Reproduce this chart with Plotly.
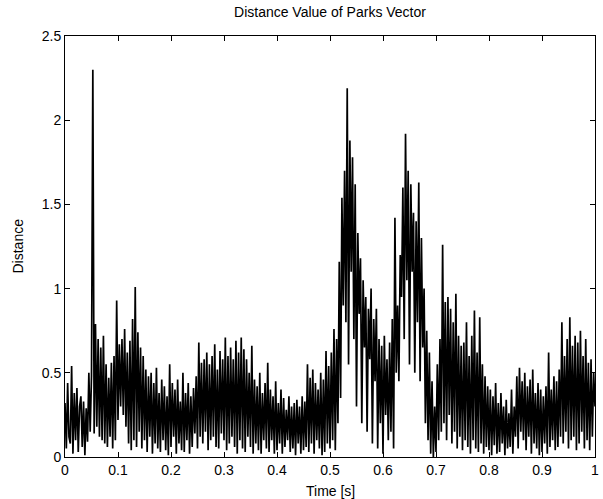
import plotly.graph_objects as go

# Distance samples, one list per 0.1 s (sample period 0.0025 s)
seg_00 = [0.32, 0.05, 0.44, 0.12, 0.08, 0.54, 0.02, 0.38, 0.10, 0.41, 0.03, 0.30,
          0.36, 0.06, 0.33, 0.01, 0.29, 0.09, 0.50, 0.15, 0.48, 2.30, 0.14, 0.79,
          0.18, 0.70, 0.12, 0.65, 0.10, 0.72, 0.08, 0.55, 0.06, 0.47, 0.12, 0.56,
          0.05, 0.60, 0.10, 0.93]
seg_01 = [0.22, 0.67, 0.30, 0.70, 0.25, 0.76, 0.18, 0.62, 0.08, 0.69, 0.04, 0.82,
          0.10, 1.01, 0.06, 0.74, 0.15, 0.65, 0.05, 0.60, 0.10, 0.52, 0.03, 0.48,
          0.12, 0.50, 0.02, 0.44, 0.08, 0.53, 0.05, 0.38, 0.03, 0.46, 0.10, 0.42,
          0.04, 0.36, 0.01, 0.55]
seg_02 = [0.06, 0.44, 0.12, 0.40, 0.02, 0.46, 0.08, 0.33, 0.04, 0.50, 0.03, 0.38,
          0.10, 0.44, 0.02, 0.36, 0.06, 0.41, 0.14, 0.48, 0.05, 0.68, 0.12, 0.56,
          0.08, 0.58, 0.15, 0.62, 0.04, 0.55, 0.10, 0.60, 0.12, 0.67, 0.06, 0.52,
          0.05, 0.63, 0.14, 0.58]
seg_03 = [0.10, 0.71, 0.04, 0.60, 0.08, 0.65, 0.12, 0.58, 0.06, 0.69, 0.02, 0.62,
          0.10, 0.71, 0.05, 0.64, 0.03, 0.58, 0.12, 0.50, 0.06, 0.66, 0.02, 0.46,
          0.08, 0.42, 0.04, 0.50, 0.02, 0.38, 0.10, 0.44, 0.05, 0.56, 0.03, 0.40,
          0.10, 0.36, 0.02, 0.45]
seg_04 = [0.04, 0.32, 0.08, 0.40, 0.02, 0.35, 0.06, 0.28, 0.10, 0.36, 0.03, 0.30,
          0.05, 0.32, 0.01, 0.34, 0.08, 0.30, 0.02, 0.36, 0.04, 0.33, 0.06, 0.55,
          0.03, 0.47, 0.08, 0.52, 0.02, 0.44, 0.10, 0.40, 0.05, 0.50, 0.01, 0.46,
          0.03, 0.63, 0.08, 0.54]
seg_05 = [0.05, 0.62, 0.10, 0.76, 0.04, 0.70, 0.20, 1.16, 0.35, 1.54, 0.90, 1.70,
          0.80, 2.19, 0.55, 1.88, 1.10, 1.78, 0.70, 1.62, 0.30, 1.33, 0.85, 1.18,
          0.20, 1.05, 0.65, 0.95, 0.15, 0.88, 0.58, 1.00, 0.08, 0.82, 0.45, 0.88,
          0.05, 0.70, 0.20, 0.66]
seg_06 = [0.02, 0.72, 0.25, 0.58, 0.10, 0.68, 0.15, 0.82, 0.05, 1.42, 0.50, 0.90,
          0.45, 1.20, 0.95, 1.60, 0.70, 1.92, 1.05, 1.70, 0.55, 1.62, 1.10, 1.45,
          0.50, 1.40, 0.80, 1.63, 0.45, 1.30, 0.65, 1.00, 0.20, 0.75, 0.10, 0.62,
          0.02, 0.45, 0.00, 0.30]
seg_07 = [0.03, 0.55, 0.10, 0.70, 0.15, 1.26, 0.20, 0.92, 0.10, 0.95, 0.25, 0.88,
          0.08, 0.80, 0.15, 0.97, 0.05, 0.72, 0.12, 0.66, 0.04, 0.68, 0.10, 0.80,
          0.06, 0.60, 0.02, 0.72, 0.10, 0.87, 0.05, 0.62, 0.03, 0.83, 0.08, 0.55,
          0.02, 0.48, 0.06, 0.42]
seg_08 = [0.04, 0.40, 0.01, 0.36, 0.07, 0.44, 0.02, 0.32, 0.03, 0.38, 0.08, 0.30,
          0.01, 0.34, 0.05, 0.26, 0.06, 0.40, 0.02, 0.30, 0.12, 0.48, 0.05, 0.53,
          0.15, 0.45, 0.10, 0.50, 0.04, 0.42, 0.12, 0.46, 0.02, 0.52, 0.08, 0.38,
          0.05, 0.44, 0.01, 0.40]
seg_09 = [0.03, 0.36, 0.08, 0.42, 0.02, 0.62, 0.06, 0.40, 0.10, 0.48, 0.04, 0.45,
          0.06, 0.52, 0.12, 0.80, 0.08, 0.60, 0.15, 0.70, 0.05, 0.83, 0.10, 0.66,
          0.12, 0.72, 0.04, 0.68, 0.08, 0.75, 0.15, 0.60, 0.05, 0.70, 0.10, 0.56,
          0.04, 0.58, 0.12, 0.50, 0.30]

sample_period = 0.0025
x_ticks = [0, 0.1, 0.2, 0.3, 0.4, 0.5, 0.6, 0.7, 0.8, 0.9, 1]
x_tick_labels = ["0", "0.1", "0.2", "0.3", "0.4", "0.5", "0.6", "0.7", "0.8", "0.9", "1"]
y_ticks = [0, 0.5, 1, 1.5, 2, 2.5]
y_tick_labels = ["0", "0.5", "1", "1.5", "2", "2.5"]

distance = (seg_00 + seg_01 + seg_02 + seg_03 + seg_04 +
            seg_05 + seg_06 + seg_07 + seg_08 + seg_09)
time = [i * sample_period for i in range(len(distance))]

FONT = "Liberation Sans, Arial, sans-serif"

fig = go.Figure()
fig.add_trace(go.Scatter(x=time, y=distance, mode="lines",
                         line=dict(color="black", width=1.7), showlegend=False))

axis_common = dict(showline=True, linecolor="black", linewidth=1, mirror="ticks",
                   ticks="inside", ticklen=5, tickcolor="black", tickwidth=1,
                   showgrid=False, zeroline=False, ticklabeloverflow="allow",
                   tickfont=dict(family=FONT, size=14, color="black"))

fig.update_layout(
    width=603, height=499,
    margin=dict(l=65, r=4, t=36, b=42),
    paper_bgcolor="white", plot_bgcolor="white",
    title=dict(text="Distance Value of Parks Vector", x=0.5, xref="paper",
               y=1 - 12 / 499, yref="container", yanchor="middle", xanchor="center",
               font=dict(family=FONT, size=14, color="black")),
    xaxis=dict(range=[0, 1], tickvals=x_ticks, ticktext=x_tick_labels, **axis_common),
    yaxis=dict(range=[0, 2.5], tickvals=y_ticks, ticktext=y_tick_labels, **axis_common),
    annotations=[
        dict(text="Time [s]", x=0.5, y=0, xref="paper", yref="paper",
             xanchor="center", yanchor="top", yshift=-24, showarrow=False,
             font=dict(family=FONT, size=14, color="black")),
        dict(text="Distance", x=0, y=0.5, xref="paper", yref="paper",
             xanchor="right", yanchor="middle", xshift=-38, textangle=-90,
             showarrow=False, font=dict(family=FONT, size=14, color="black")),
    ],
)

fig.write_html("out.html")
